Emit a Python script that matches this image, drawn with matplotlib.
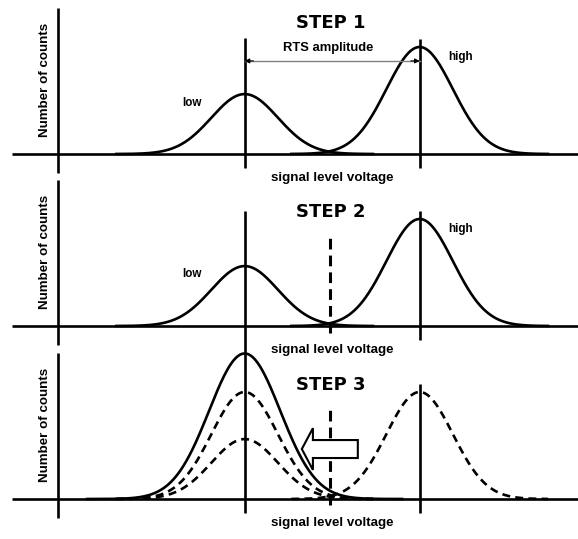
import numpy as np
import matplotlib
matplotlib.use('Agg')
import matplotlib.pyplot as plt
from matplotlib.patches import FancyArrow

# signal levels (arbitrary voltage units, y-axis at 0)
levels = [3.2, 6.2]            # low, high
level_names = ['low', 'high']
sigma = 0.57
tail = 2.2

# peak heights (relative counts)
step1_heights = [0.56, 1.0]
step2_heights = [0.56, 1.0]
step3_low_heights = [1.36, 1.0, 0.56]   # solid, dashed, dashed
step3_low_sigma = [0.61, 0.57, 0.57]
step3_high_height = 1.0
threshold = 4.66

step_titles = ['STEP 1', 'STEP 2', 'STEP 3']
xlabel = 'signal level voltage'
ylabel = 'Number of counts'
amp_label = 'RTS amplitude'

lab_font = dict(family='Liberation Sans', fontweight='bold')


def gauss(center, height, sig, spread=tail):
    x = np.linspace(center - spread, center + spread, 300)
    return x, height * np.exp(-0.5 * ((x - center) / sig) ** 2)


fig = plt.figure(figsize=(5.78, 5.39), dpi=100)
H = 173 / 539
bottoms = [1 - 173 / 539, 1 - 345 / 539, 1 - 518 / 539]
axes = []
for b in bottoms:
    ax = fig.add_axes([0, b, 1, H])
    ax.set_xlim(-58 / 58.33, 520 / 58.33)
    ax.set_ylim(-19 / 107, 154 / 107)
    ax.axis('off')
    axes.append(ax)

for i, ax in enumerate(axes):
    # axes cross
    ax.plot([0, 0], [-0.178, 1.364], color='black', lw=1.9,
            solid_capstyle='butt', clip_on=False)
    ax.plot([-0.79, 8.95], [0, 0], color='black', lw=1.9,
            solid_capstyle='butt', clip_on=False)
    ax.text(4.71, -0.22, xlabel, ha='center', va='center', fontsize=9.6,
            **lab_font)
    ax.text(-0.223, 0.69, ylabel, ha='center', va='center', fontsize=9.6,
            rotation=90, **lab_font)
    ax.text(4.68, 1.224 if i == 0 else 1.065, step_titles[i], ha='center',
            va='center', fontsize=13, fontweight='bold',
            family='DejaVu Sans')
    # high level marker
    ax.plot([levels[1]] * 2, [-0.131, 1.072], color='black', lw=1.9,
            solid_capstyle='butt', clip_on=False)

# ---- STEP 1
ax = axes[0]
for c, h in zip(levels, step1_heights):
    x, y = gauss(c, h, sigma)
    ax.plot(x, y, color='black', lw=1.9)
ax.plot([levels[0]] * 2, [-0.131, 1.084], color='black', lw=1.9,
        solid_capstyle='butt')
ax.plot(levels, [0.87, 0.87], color='#808080', lw=1.0)
for a, b in [(levels[0], levels[0] + 0.15), (levels[1], levels[1] - 0.15)]:
    ax.annotate('', xy=(a, 0.87), xytext=(b, 0.87),
                arrowprops=dict(arrowstyle='-|>', color='black', lw=0.8,
                                mutation_scale=7, shrinkA=0, shrinkB=0))
ax.text(4.63, 0.99, amp_label, ha='center', va='center', fontsize=9.4,
        **lab_font)
ax.text(2.30, 0.477, level_names[0], ha='center', va='center', fontsize=8.4,
        **lab_font)
ax.text(6.91, 0.907, level_names[1], ha='center', va='center', fontsize=8.4,
        **lab_font)

# ---- STEP 2
ax = axes[1]
for c, h in zip(levels, step2_heights):
    x, y = gauss(c, h, sigma)
    ax.plot(x, y, color='black', lw=1.9)
ax.plot([levels[0]] * 2, [-1.748, 1.075], color='black', lw=1.9,
        solid_capstyle='butt', clip_on=False)
ax.plot([threshold] * 2, [-0.065, 0.869], color='black', lw=2.2,
        dashes=(3.5, 2))
ax.text(2.30, 0.486, level_names[0], ha='center', va='center', fontsize=8.4,
        **lab_font)
ax.text(6.91, 0.907, level_names[1], ha='center', va='center', fontsize=8.4,
        **lab_font)

# ---- STEP 3
ax = axes[2]
for k, (h, s) in enumerate(zip(step3_low_heights, step3_low_sigma)):
    x, y = gauss(levels[0], h, s, spread=2.7 if k == 0 else 2.2)
    if k == 0:
        ax.plot(x, y, color='black', lw=1.9)
    else:
        ax.plot(x, y, color='black', lw=1.9, dashes=(3, 2))
x, y = gauss(levels[1], step3_high_height, sigma)
ax.plot(x, y, color='black', lw=1.9, dashes=(3, 2))
ax.plot([threshold] * 2, [-0.056, 0.879], color='black', lw=2.2,
        dashes=(3.5, 2))
ax.add_patch(FancyArrow(5.14, 0.467, -0.96, 0, width=0.168,
                        head_width=0.39, head_length=0.19,
                        length_includes_head=True, facecolor='white',
                        edgecolor='black', lw=1.5, zorder=5))

fig.savefig('out.png', dpi=100)
